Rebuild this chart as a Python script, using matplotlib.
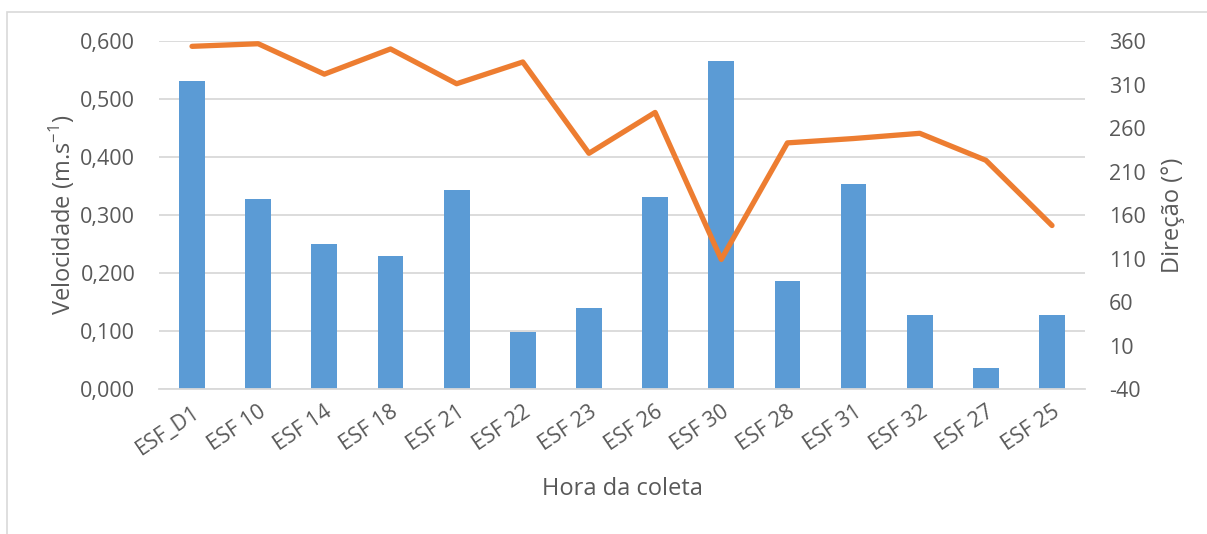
import matplotlib.pyplot as plt
from matplotlib.patches import Rectangle
from matplotlib.ticker import FuncFormatter

plt.rcParams['font.family'] = ['Open Sans', 'DejaVu Sans']
plt.rcParams['mathtext.fontset'] = 'custom'
plt.rcParams['mathtext.rm'] = 'Open Sans'
plt.rcParams['axes.unicode_minus'] = False

estacoes = ['ESF_D1', 'ESF 10', 'ESF 14', 'ESF 18', 'ESF 21', 'ESF 22', 'ESF 23',
            'ESF 26', 'ESF 30', 'ESF 28', 'ESF 31', 'ESF 32', 'ESF 27', 'ESF 25']
velocidade = [0.532, 0.327, 0.250, 0.230, 0.344, 0.098, 0.140,
              0.332, 0.566, 0.186, 0.354, 0.127, 0.037, 0.128]
direcao = [354, 357, 322, 351, 311, 336, 231,
           278, 109, 243, 248, 254, 223, 148]

texto = '#595959'
grade = '#d9d9d9'

fig = plt.figure(figsize=(12.07, 5.34), dpi=100)
ax = fig.add_axes([0.1317, 0.2715, 0.7673, 0.6515])
ax2 = ax.twinx()

# moldura externa do grafico (so aparecem esquerda e topo)
fig.patches.append(Rectangle((7 / 1207, -0.1), 1.2, (534 - 12) / 534 + 0.1,
                             transform=fig.transFigure, fill=False,
                             edgecolor=grade, linewidth=1.2))

x = range(len(estacoes))
ax.bar(x, velocidade, width=0.39, color='#5B9BD5', zorder=2)
ax2.plot(x, direcao, color='#ED7D31', linewidth=3.8, solid_capstyle='round', zorder=3)

ax.set_xlim(-0.5, len(estacoes) - 0.5)
ax.set_ylim(0, 0.6)
ax.set_yticks([0, 0.1, 0.2, 0.3, 0.4, 0.5, 0.6])
ax.yaxis.set_major_formatter(FuncFormatter(lambda v, p: f'{v:.3f}'.replace('.', ',')))
ax2.set_ylim(-40, 360)
ax2.set_yticks(range(-40, 361, 50))

ax.grid(axis='y', color=grade, linewidth=1.3, zorder=0)
ax.set_axisbelow(True)

for a in (ax, ax2):
    for s in a.spines.values():
        s.set_visible(False)
    a.tick_params(length=0, labelsize=15.5, labelcolor=texto)
ax.spines['bottom'].set_visible(True)
ax.spines['bottom'].set_color(grade)
ax.spines['bottom'].set_linewidth(1.3)

ax.set_xticks(list(x))
ax.set_xticklabels(estacoes, rotation=34, ha='right', rotation_mode='anchor')
ax.tick_params(axis='x', pad=9)
ax.tick_params(axis='y', pad=17)
ax2.tick_params(axis='y', pad=17)

ax.set_xlabel('Hora da coleta', fontsize=17, color=texto, labelpad=13)
ax.set_ylabel(r'Velocidade (m.s$^{-1}$)', fontsize=17, color=texto, labelpad=2)
ax2.set_ylabel('Direção (°)', fontsize=17, color=texto, labelpad=11)

fig.savefig('out.png', dpi=100)
